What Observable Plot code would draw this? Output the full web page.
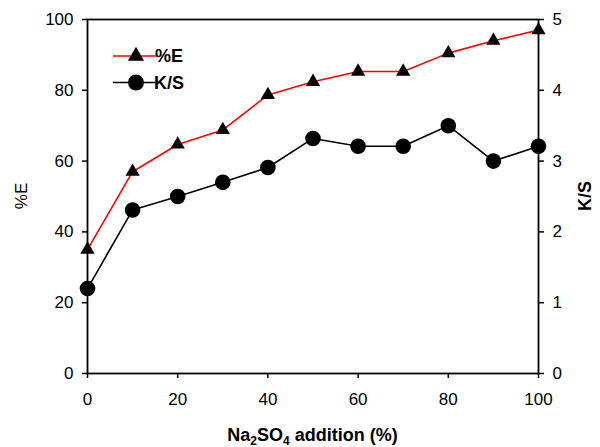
<!DOCTYPE html>
<html>
<head>
<meta charset="utf-8">
<script src="https://cdn.jsdelivr.net/npm/d3@7"></script>
<script src="https://cdn.jsdelivr.net/npm/@observablehq/plot@0.6"></script>
<style>
  html, body { margin: 0; padding: 0; background: white; }
  svg text { font-family: "Liberation Sans", Arial, sans-serif; }
</style>
</head>
<body>
<div id="chart"></div>
<script>
// Data
const na2so4 = [0, 10, 20, 30, 40, 50, 60, 70, 80, 90, 100];
const pctE = [35, 57, 64.7, 68.8, 78.7, 82.4, 85.3, 85.3, 90.5, 94, 97];
const ks = [1.2, 2.31, 2.5, 2.7, 2.91, 3.32, 3.21, 3.21, 3.5, 3.0, 3.21];
const xTicks = [0, 20, 40, 60, 80, 100];
const yTicks = [0, 20, 40, 60, 80, 100];
const ksTicks = [0, 1, 2, 3, 4, 5];
const ksFactor = 20; // K/S axis 0–5 mapped onto %E axis 0–100

const rows = na2so4.map((x, i) => ({x, e: pctE[i], ks: ks[i]}));

const chart = Plot.plot({
  width: 600,
  height: 447,
  marginLeft: 87,
  marginRight: 62,
  marginTop: 19,
  marginBottom: 74,
  style: {fontFamily: "Liberation Sans, Arial, sans-serif", fontSize: "17px", color: "black", background: "white"},
  x: {domain: [0, 100]},
  y: {domain: [0, 100]},
  marks: [
    Plot.axisX({ticks: xTicks, tickSize: 5, tickPadding: 14, label: null, fontSize: 17, strokeWidth: 1.5}),
    Plot.axisY({ticks: yTicks, tickSize: 5, tickPadding: 9, label: null, fontSize: 17, strokeWidth: 1.5}),
    Plot.axisY({anchor: "right", ticks: ksTicks.map(d => d * ksFactor), tickFormat: d => d / ksFactor, tickSize: 5, tickPadding: 9, label: null, fontSize: 17, strokeWidth: 1.5}),
    Plot.frame({stroke: "black", strokeWidth: 1.8}),
    Plot.line(rows, {x: "x", y: "e", stroke: "#ff0000", strokeWidth: 1.6}),
    Plot.line(rows, {x: "x", y: d => d.ks * ksFactor, stroke: "black", strokeWidth: 1.6}),
    Plot.dot(rows, {x: "x", y: "e", symbol: "triangle", r: 5.3, fill: "black", stroke: "none"}),
    Plot.dot(rows, {x: "x", y: d => d.ks * ksFactor, symbol: "circle", r: 7.8, fill: "black", stroke: "none"})
  ]
});

document.getElementById("chart").appendChild(chart);

const svg = d3.select(chart);
const sx = chart.scale("x"), sy = chart.scale("y");
const xc = (sx.range[0] + sx.range[1]) / 2;
const yc = (sy.range[0] + sy.range[1]) / 2;

// Axis titles
svg.append("text")
  .attr("transform", `translate(21,${yc}) rotate(-90)`)
  .attr("text-anchor", "middle").attr("dominant-baseline", "central")
  .attr("font-size", 17).attr("fill", "black")
  .text("%E");

svg.append("text")
  .attr("transform", `translate(585,${yc}) rotate(-90)`)
  .attr("text-anchor", "middle").attr("dominant-baseline", "central")
  .attr("font-size", 18).attr("font-weight", "bold").attr("fill", "black")
  .text("K/S");

const xl = svg.append("text")
  .attr("x", xc).attr("y", 441)
  .attr("text-anchor", "middle")
  .attr("font-size", 18).attr("font-weight", "bold").attr("fill", "black");
xl.append("tspan").text("Na");
xl.append("tspan").attr("font-size", 12).attr("dy", 3.5).text("2");
xl.append("tspan").attr("dy", -3.5).text("SO");
xl.append("tspan").attr("font-size", 12).attr("dy", 3.5).text("4");
xl.append("tspan").attr("dy", -3.5).text(" addition (%)");

// Legend
const legend = [
  {label: "%E", color: "#ff0000", symbol: d3.symbolTriangle, size: Math.PI * 6 * 6, y: 56},
  {label: "K/S", color: "black", symbol: d3.symbolCircle, size: Math.PI * 8 * 8, y: 82.5}
];
const lg = svg.append("g");
legend.forEach(it => {
  lg.append("line").attr("x1", 113).attr("x2", 158).attr("y1", it.y).attr("y2", it.y)
    .attr("stroke", it.color).attr("stroke-width", 1.5);
  lg.append("path").attr("d", d3.symbol(it.symbol, it.size)())
    .attr("transform", `translate(136,${it.y})`).attr("fill", "black");
  lg.append("text").attr("x", 169).attr("y", it.y).attr("dominant-baseline", "central")
    .attr("font-size", 18).attr("font-weight", "bold").attr("fill", "black").text(it.label);
});
</script>
</body>
</html>
